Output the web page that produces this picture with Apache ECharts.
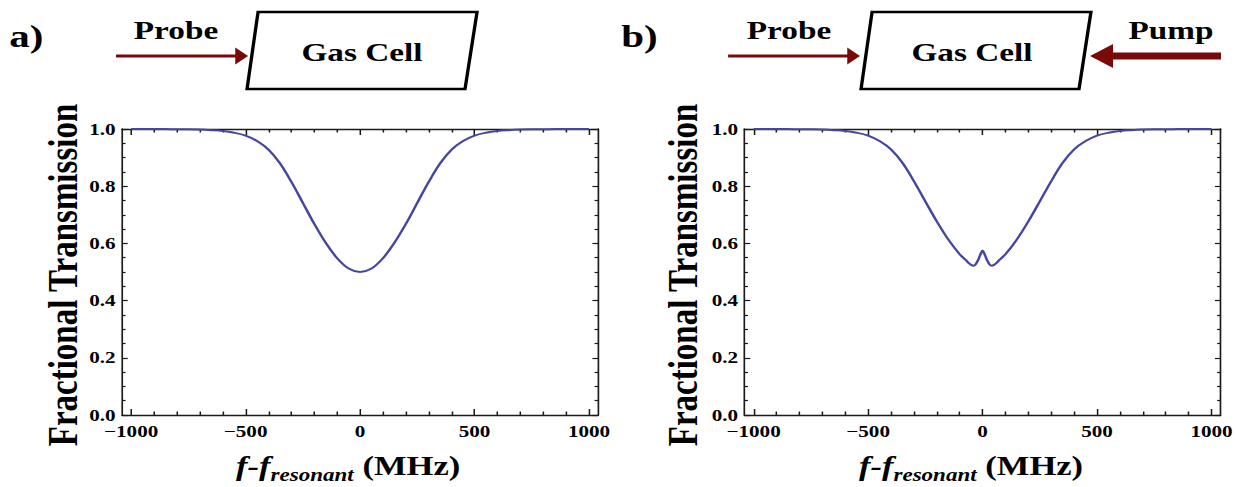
<!DOCTYPE html>
<html>
<head>
<meta charset="utf-8">
<script src="https://cdn.jsdelivr.net/npm/echarts@6/dist/echarts.min.js"></script>
<style>
  html, body { margin: 0; padding: 0; background: #ffffff; overflow: hidden; }
  #wrap { width: 1236px; height: 487px; overflow: hidden; }
  #chart { height: 487px; transform-origin: 0 0; }
</style>
</head>
<body>
<div id="wrap"><div id="chart"></div></div>
<script>
// ---- Probe transmission vs. detuning (MHz) ----
// a) probe only: Doppler-broadened absorption
const freqA = [-1000, -950, -900, -850, -800, -750, -700, -650, -600, -550, -500, -450, -400, -350, -300, -250, -200, -150, -100, -50,
  0, 50, 100, 150, 200, 250, 300, 350, 400, 450, 500, 550, 600, 650, 700, 750, 800, 850, 900, 950, 1000];
const transA = [1.000, 1.000, 1.000, 1.000, 0.999, 0.999, 0.998, 0.996, 0.993, 0.987, 0.977, 0.958, 0.928, 0.880, 0.815, 0.742, 0.668, 0.602, 0.548, 0.512,
  0.500, 0.512, 0.548, 0.602, 0.668, 0.742, 0.815, 0.880, 0.928, 0.958, 0.977, 0.987, 0.993, 0.996, 0.998, 0.999, 0.999, 1.000, 1.000, 1.000, 1.000];

// b) probe + counter-propagating pump: Lamb dip at resonance
const freqB = [-1000, -950, -900, -850, -800, -750, -700, -650, -600, -550, -500, -450, -400, -350, -300, -250, -200, -150, -100, -75,
  -60, -50, -40, -30, -20, -10, 0, 10, 20, 30, 40, 50, 60,
  75, 100, 150, 200, 250, 300, 350, 400, 450, 500, 550, 600, 650, 700, 750, 800, 850, 900, 950, 1000];
const transB = [1.000, 1.000, 1.000, 1.000, 0.999, 0.999, 0.998, 0.996, 0.993, 0.987, 0.977, 0.958, 0.929, 0.882, 0.818, 0.747, 0.677, 0.614, 0.562, 0.543,
  0.531, 0.525, 0.522, 0.527, 0.541, 0.560, 0.575, 0.560, 0.541, 0.527, 0.522, 0.525, 0.531,
  0.543, 0.562, 0.614, 0.677, 0.747, 0.818, 0.882, 0.929, 0.958, 0.977, 0.987, 0.993, 0.996, 0.998, 0.999, 0.999, 1.000, 1.000, 1.000, 1.000];

// ---- tick values ----
const xMajorTicks = [-1000, -500, 0, 500, 1000];
const xMinorTicks = [-900, -800, -700, -600, -400, -300, -200, -100, 100, 200, 300, 400, 600, 700, 800, 900];
const yMajorTicks = [0, 0.2, 0.4, 0.6, 0.8, 1.0];
const yMinorTicks = [0.05, 0.1, 0.15, 0.25, 0.3, 0.35, 0.45, 0.5, 0.55, 0.65, 0.7, 0.75, 0.85, 0.9, 0.95];

// ---- texts ----
const panelLetters = ['a)', 'b)'];
const yTitle = 'Fractional Transmission';
const cellLabel = 'Gas Cell';
const probeLabel = 'Probe';
const pumpLabel = 'Pump';

// The figure is laid out in a narrower box and widened horizontally by S.
const S = 1.28;
const W = 1236 / S;
const chartEl = document.getElementById('chart');
chartEl.style.width = W + 'px';
chartEl.style.transform = 'scaleX(' + S + ')';

const FONT = '"Liberation Serif", "Times New Roman", serif';
const INK = '#1a1a1a';
const CURVE = '#4646a2';
const BEAM = '#7a0a0a';

const grids = [
  { left: 95.3, top: 129, width: 372, height: 286 },
  { left: 581.6, top: 129, width: 373, height: 286 }
];

const xFmt = v => (v < 0 ? '\u2212' + Math.abs(v) : String(v));
const yFmt = v => Number(v).toFixed(1);

function frameLine() { return { show: true, onZero: false, lineStyle: { color: INK, width: 1.3 } }; }

function xAxesFor(g) {
  const base = { gridIndex: g, type: 'value', min: -1040, max: 1040, splitLine: { show: false } };
  const tick = (vals, len) => ({ show: true, inside: true, length: len, customValues: vals, lineStyle: { color: INK, width: 1.2 } });
  return [
    Object.assign({}, base, {
      position: 'bottom', axisLine: frameLine(), axisTick: tick(xMajorTicks, 6),
      axisLabel: { show: true, customValues: xMajorTicks, formatter: xFmt, margin: 8, fontSize: 16.5, fontWeight: 'bold', fontFamily: FONT, color: '#000' }
    }),
    Object.assign({}, base, { position: 'bottom', axisLine: { show: false, onZero: false }, axisTick: tick(xMinorTicks, 3.5), axisLabel: { show: false } }),
    Object.assign({}, base, { position: 'top', axisLine: frameLine(), axisTick: tick(xMajorTicks, 6), axisLabel: { show: false } }),
    Object.assign({}, base, { position: 'top', axisLine: { show: false, onZero: false }, axisTick: tick(xMinorTicks, 3.5), axisLabel: { show: false } })
  ];
}

function yAxesFor(g) {
  const base = { gridIndex: g, type: 'value', min: 0, max: 1, splitLine: { show: false } };
  const tick = (vals, len) => ({ show: true, inside: true, length: len, customValues: vals, lineStyle: { color: INK, width: 1.2 } });
  return [
    Object.assign({}, base, {
      position: 'left', axisLine: frameLine(), axisTick: tick(yMajorTicks, 4.5),
      axisLabel: { show: true, customValues: yMajorTicks, formatter: yFmt, margin: 5, fontSize: 16.5, fontWeight: 'bold', fontFamily: FONT, color: '#000' }
    }),
    Object.assign({}, base, { position: 'left', axisLine: { show: false, onZero: false }, axisTick: tick(yMinorTicks, 2.8), axisLabel: { show: false } }),
    Object.assign({}, base, { position: 'right', axisLine: frameLine(), axisTick: tick(yMajorTicks, 4.5), axisLabel: { show: false } }),
    Object.assign({}, base, { position: 'right', axisLine: { show: false, onZero: false }, axisTick: tick(yMinorTicks, 2.8), axisLabel: { show: false } })
  ];
}

function curveSeries(g, xs, ys) {
  return {
    type: 'line', xAxisIndex: g * 4, yAxisIndex: g * 4,
    data: xs.map((x, i) => [x, ys[i]]),
    showSymbol: false, smooth: 0.35, clip: false, silent: true,
    lineStyle: { color: CURVE, width: 2 }
  };
}

// ---- schematic elements above each plot ----
function txt(x, y, text, size, extra) {
  return Object.assign({
    type: 'text', x: x, y: y, silent: true,
    style: { text: text, fill: '#000', fontSize: size, fontWeight: 'bold', fontFamily: FONT,
      align: 'center', verticalAlign: 'middle', textAlign: 'center', textVerticalAlign: 'middle' }
  }, extra || {});
}
function cell(pts) {
  return { type: 'polygon', silent: true, shape: { points: pts }, style: { fill: '#fff', stroke: '#000', lineWidth: 2.6 } };
}
function beam(x0, x1, y, width, headLen, headHalf) {
  const dir = Math.sign(x1 - x0);
  const base = x1 - dir * headLen;
  return [
    { type: 'polyline', silent: true, shape: { points: [[x0, y], [base + dir * 1, y]] }, style: { stroke: BEAM, lineWidth: width, fill: null } },
    { type: 'polygon', silent: true, shape: { points: [[x1, y], [base, y - headHalf], [base, y + headHalf]] }, style: { fill: BEAM, stroke: null } }
  ];
}
function xTitle(cx) {
  return {
    type: 'text', x: cx, y: 467, silent: true,
    style: {
      text: '{f|f-f}{s|resonant}{u| (MHz)}',
      align: 'center', verticalAlign: 'middle', textAlign: 'center', textVerticalAlign: 'middle',
      fill: '#000', fontFamily: FONT,
      rich: {
        f: { fontSize: 27, fontWeight: 'bold', fontStyle: 'italic', fontFamily: FONT, fill: '#000', lineHeight: 30, verticalAlign: 'top' },
        s: { fontSize: 18, fontWeight: 'bold', fontStyle: 'italic', fontFamily: FONT, fill: '#000', lineHeight: 20, padding: [14, 0, 0, 0], verticalAlign: 'top' },
        u: { fontSize: 27, fontWeight: 'bold', fontFamily: FONT, fill: '#000', lineHeight: 30, verticalAlign: 'top' }
      }
    }
  };
}

const graphics = [
  // panel a
  txt(20.5, 36, panelLetters[0], 32),
  txt(137.5, 30, probeLabel, 26),
  ...beam(90.6, 193.8, 56, 3, 10, 8.5),
  cell([[201.6, 12], [372.7, 12], [363.3, 89], [193, 89]]),
  txt(282.8, 52, cellLabel, 26),
  txt(48.6, 275, yTitle, 33, { rotation: Math.PI / 2 }),
  xTitle(272),
  // panel b
  txt(499.5, 36, panelLetters[1], 32),
  txt(616.4, 30, probeLabel, 26),
  ...beam(568.8, 671.9, 56, 3, 10, 8.5),
  cell([[681.3, 12], [852.3, 12], [843, 89], [672.7, 89]]),
  txt(759.4, 52, cellLabel, 26),
  txt(914.8, 30, pumpLabel, 26),
  ...beam(953.9, 851.6, 56, 7, 18, 12),
  txt(533.6, 275, yTitle, 33, { rotation: Math.PI / 2 }),
  xTitle(758.6)
];

const chart = echarts.init(chartEl, null, { renderer: 'svg' });
chart.setOption({
  animation: false,
  backgroundColor: '#ffffff',
  textStyle: { fontFamily: FONT },
  grid: grids,
  xAxis: [...xAxesFor(0), ...xAxesFor(1)],
  yAxis: [...yAxesFor(0), ...yAxesFor(1)],
  series: [curveSeries(0, freqA, transA), curveSeries(1, freqB, transB)],
  graphic: { elements: graphics }
});
</script>
</body>
</html>
